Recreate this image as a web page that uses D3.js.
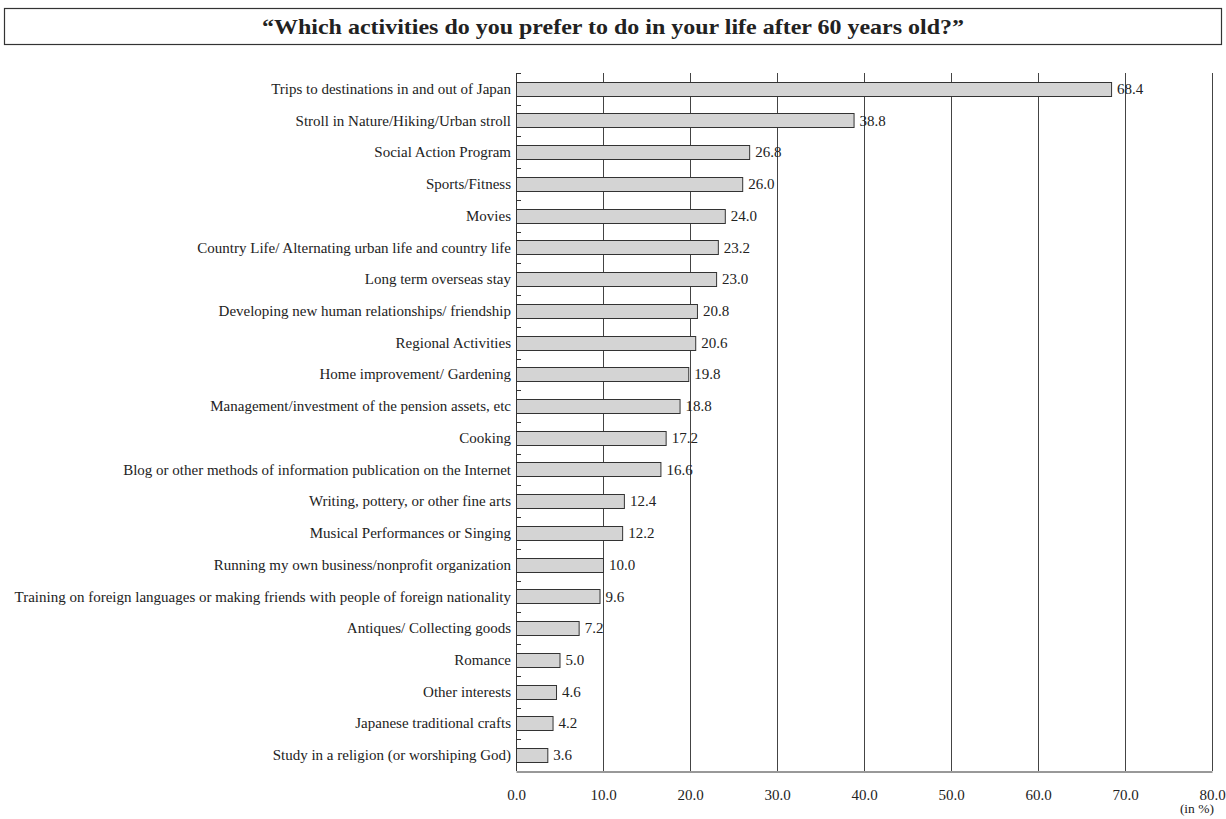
<!DOCTYPE html>
<html>
<head>
<meta charset="utf-8">
<script src="https://cdn.jsdelivr.net/npm/d3@7"></script>
<style>
  body { margin: 0; background: #fff; }
  svg { display: block; }
  text { font-family: "Liberation Serif", "Times New Roman", serif; fill: #222; }
</style>
</head>
<body>
<svg id="chart" width="1226" height="819"></svg>
<script>
const titleText = "\u201CWhich activities do you prefer to do in your life after 60 years old?\u201D";
const categories = [
  "Trips to destinations in and out of Japan",
  "Stroll in Nature/Hiking/Urban stroll",
  "Social Action Program",
  "Sports/Fitness",
  "Movies",
  "Country Life/ Alternating urban life and country life",
  "Long term overseas stay",
  "Developing new human relationships/ friendship",
  "Regional Activities",
  "Home improvement/ Gardening",
  "Management/investment of the pension assets, etc",
  "Cooking",
  "Blog or other methods of information publication on the Internet",
  "Writing, pottery, or other fine arts",
  "Musical Performances or Singing",
  "Running my own business/nonprofit organization",
  "Training on foreign languages or making friends with people of foreign nationality",
  "Antiques/ Collecting goods",
  "Romance",
  "Other interests",
  "Japanese traditional crafts",
  "Study in a religion (or worshiping God)"
];
const values = [68.4, 38.8, 26.8, 26.0, 24.0, 23.2, 23.0, 20.8, 20.6, 19.8, 18.8, 17.2, 16.6, 12.4, 12.2, 10.0, 9.6, 7.2, 5.0, 4.6, 4.2, 3.6];
const xTicks = [0, 10, 20, 30, 40, 50, 60, 70, 80];
const unitLabel = "(in %)";

const svg = d3.select("#chart");
const margin = {left: 516, right: 14, top: 73, bottom: 48};
const W = 1226, H = 819;
const x = d3.scaleLinear().domain([0, 80]).range([margin.left, W - margin.right]);
const y = d3.scaleBand().domain(categories).range([margin.top, H - margin.bottom]).paddingInner(0.55).paddingOuter(0.275);

// Title box
svg.append("rect").attr("x", 4.5).attr("y", 8.5).attr("width", 1217).attr("height", 36)
  .attr("fill", "none").attr("stroke", "#333").attr("stroke-width", 1.2);
svg.append("text").attr("x", 613).attr("y", 34).attr("text-anchor", "middle")
  .attr("font-size", 22).attr("font-weight", "bold")
  .attr("textLength", 702).attr("lengthAdjust", "spacingAndGlyphs")
  .text(titleText);

// Grid lines
svg.append("g").selectAll("line").data(xTicks.slice(1)).join("line")
  .attr("x1", d => Math.round(x(d)) + 0.5).attr("x2", d => Math.round(x(d)) + 0.5)
  .attr("y1", margin.top).attr("y2", H - margin.bottom)
  .attr("stroke", "#444").attr("stroke-width", 1);

// x axis
const xAxis = d3.axisBottom(x).tickValues(xTicks).tickFormat(d3.format(".1f")).tickSize(0).tickPadding(18);
const gx = svg.append("g").attr("transform", `translate(0,${H - margin.bottom + 0.5})`).call(xAxis);
gx.select(".domain").attr("stroke", "#333");
gx.selectAll("text").attr("font-size", 15).attr("font-family", "Liberation Serif").attr("fill", "#222");

svg.append("text").attr("x", W - margin.right + 2).attr("y", 813).attr("text-anchor", "end")
  .attr("font-size", 13.5).text(unitLabel);

// y axis line and ticks
svg.append("line").attr("x1", margin.left + 0.5).attr("x2", margin.left + 0.5)
  .attr("y1", margin.top).attr("y2", H - margin.bottom).attr("stroke", "#333");
const step = y.step();
const boundaries = d3.range(categories.length).map(i => margin.top + i * step);
svg.append("g").selectAll("line").data(boundaries).join("line")
  .attr("x1", margin.left).attr("x2", margin.left + 5)
  .attr("y1", d => Math.round(d) + 0.5).attr("y2", d => Math.round(d) + 0.5)
  .attr("stroke", "#333");

// Bars
svg.append("g").selectAll("rect").data(categories).join("rect")
  .attr("x", margin.left + 0.5)
  .attr("y", d => Math.round(y(d)) + 0.5)
  .attr("width", (d, i) => x(values[i]) - x(0))
  .attr("height", Math.round(y.bandwidth()))
  .attr("fill", "#d4d4d4").attr("stroke", "#333").attr("stroke-width", 1);

// Value labels
svg.append("g").selectAll("text").data(categories).join("text")
  .attr("x", (d, i) => x(values[i]) + 6)
  .attr("y", d => y(d) + y.bandwidth() / 2 + 5)
  .attr("font-size", 15)
  .text((d, i) => values[i].toFixed(1));

// Category labels
svg.append("g").selectAll("text").data(categories).join("text")
  .attr("x", margin.left - 5)
  .attr("y", d => y(d) + y.bandwidth() / 2 + 5)
  .attr("text-anchor", "end")
  .attr("font-size", 15)
  .text(d => d);
</script>
</body>
</html>
